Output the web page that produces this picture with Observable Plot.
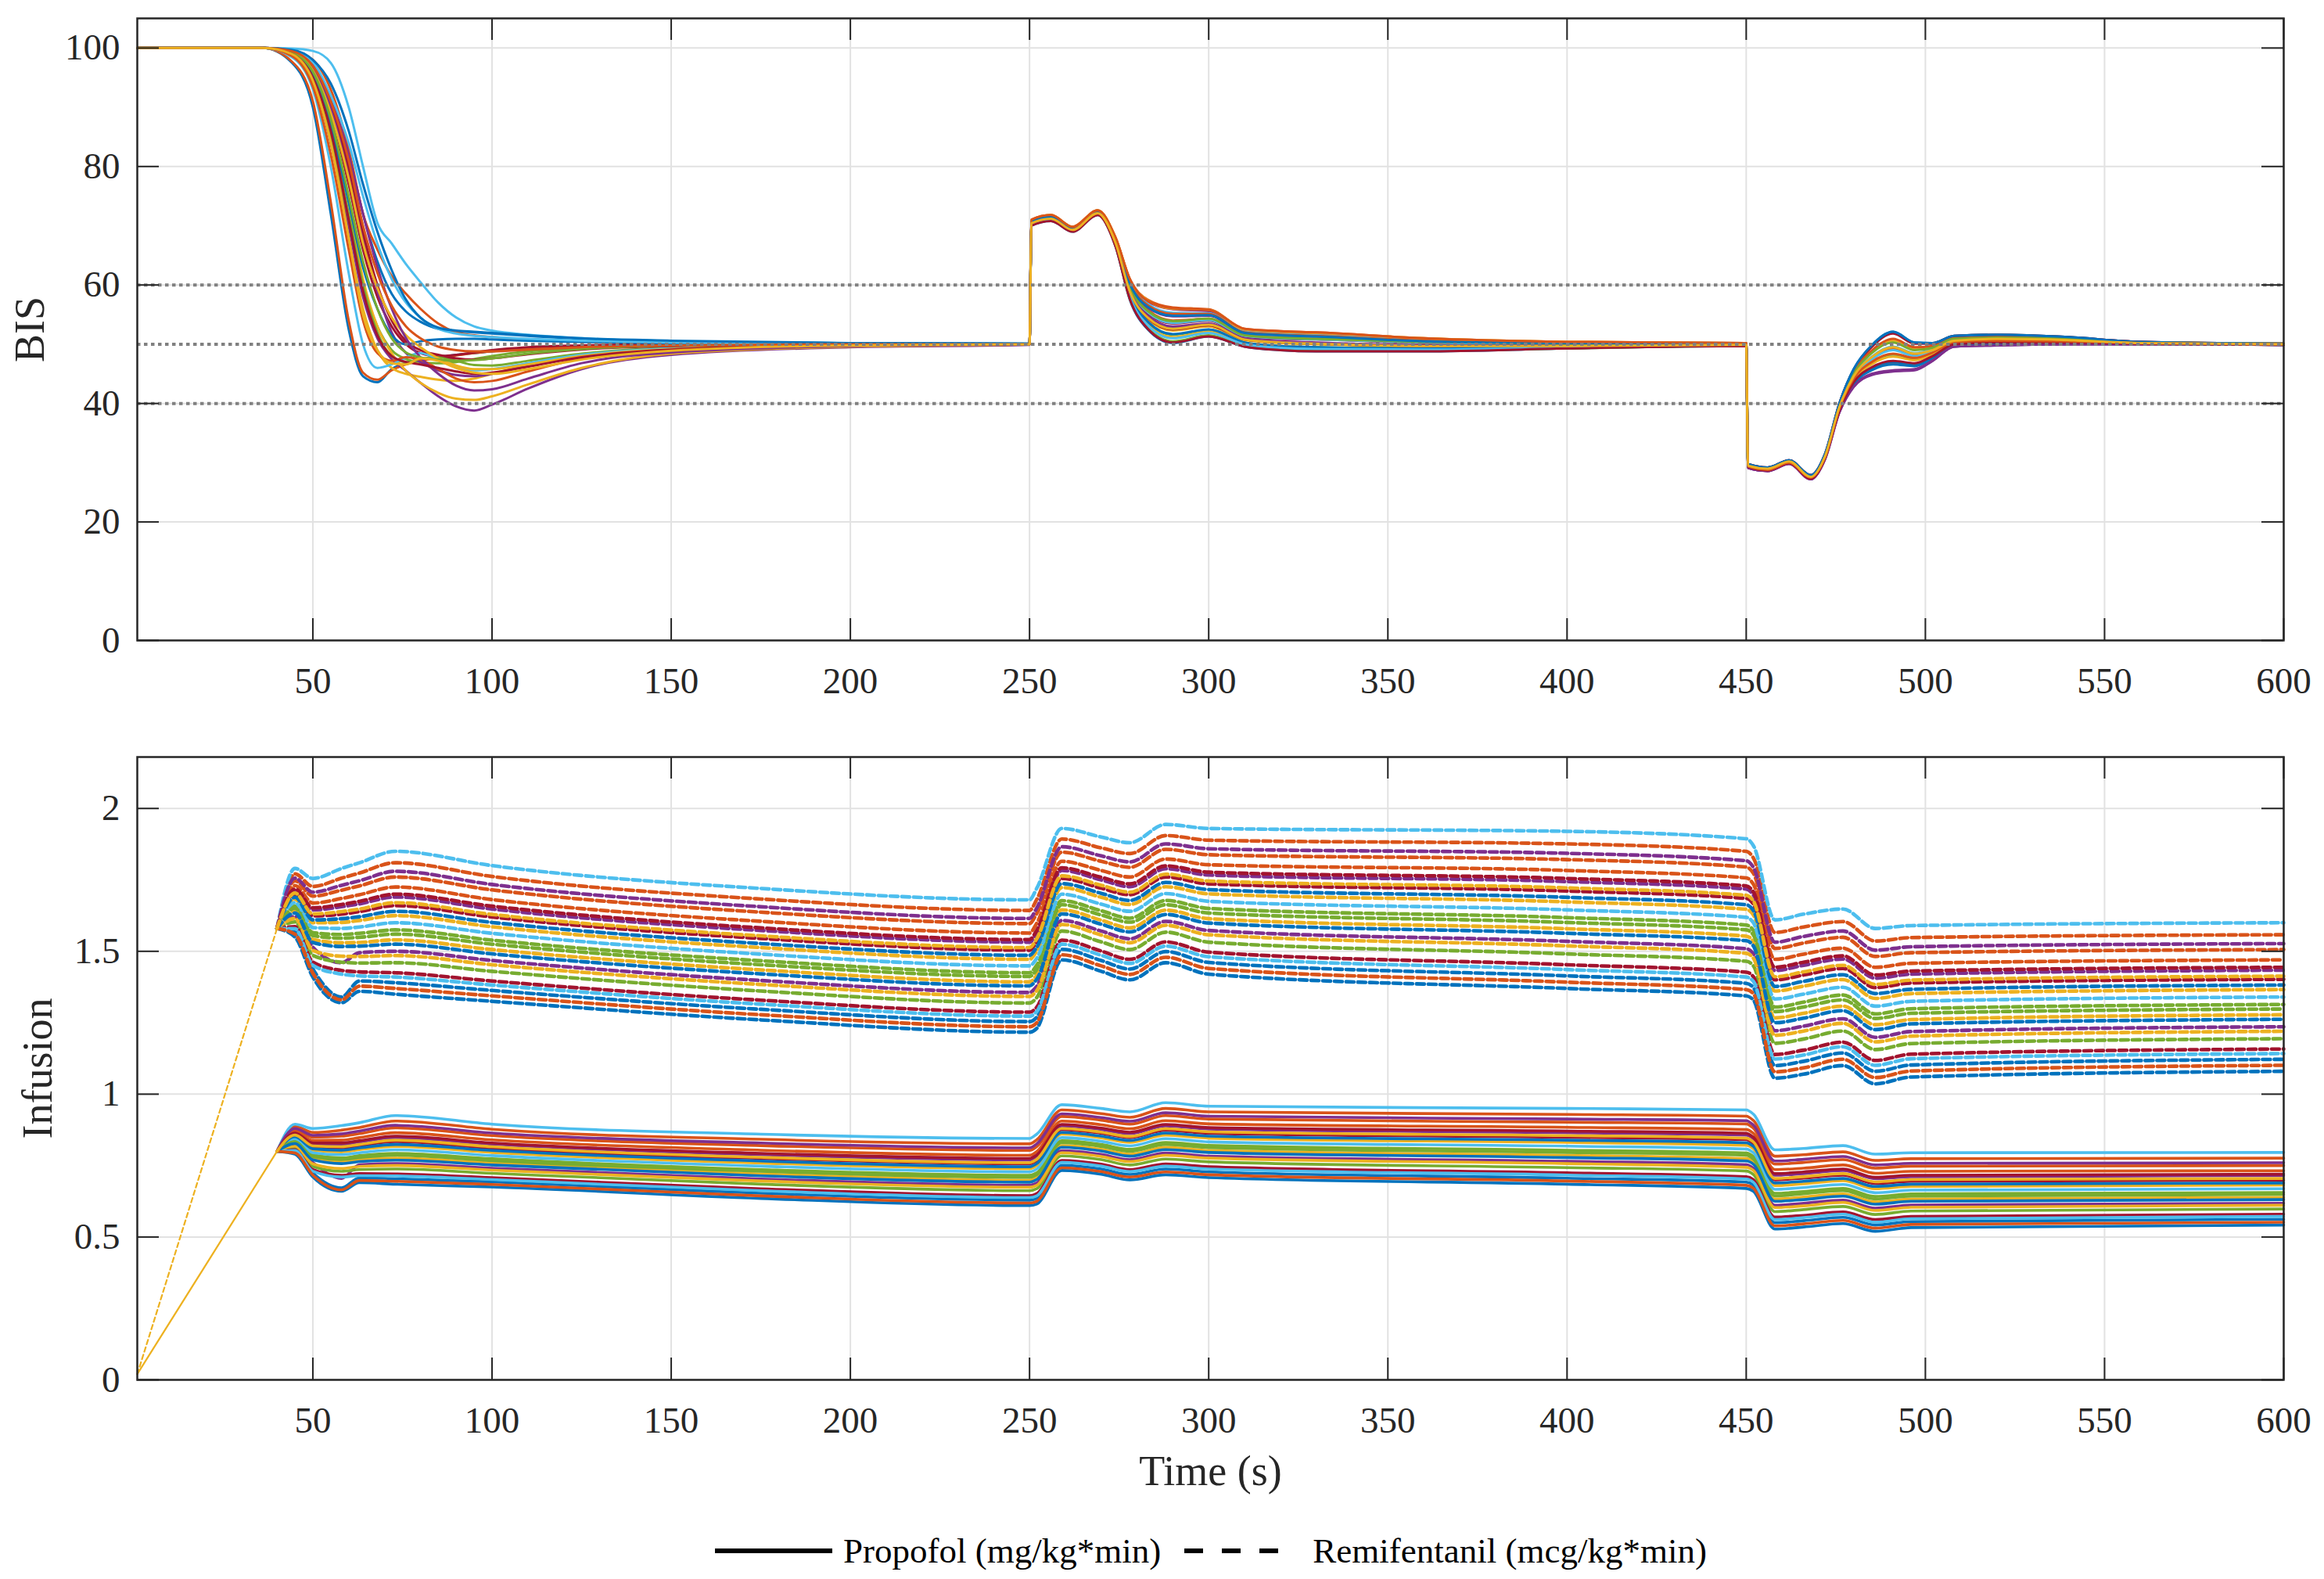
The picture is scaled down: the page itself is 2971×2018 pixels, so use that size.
<!DOCTYPE html>
<html><head><meta charset="utf-8">
<script src="https://cdn.jsdelivr.net/npm/d3@7"></script>
<script src="https://cdn.jsdelivr.net/npm/@observablehq/plot@0.6"></script>
<style>
html,body{margin:0;padding:0;background:#fff;}
#wrap{position:relative;width:2971px;height:2018px;overflow:hidden;font-family:"Liberation Serif","Times New Roman",serif;color:#262626;background:#fff;}
#top{position:absolute;left:0;top:0;}
#bot{position:absolute;left:0;top:900px;}
#legend{position:absolute;left:914px;top:1950px;height:64px;display:flex;align-items:center;font-size:45px;white-space:nowrap;color:#000;}
#legend span{margin-left:14px;}
#legend svg.d{margin-left:30px;}
#legend span.r{margin-left:44px;}
</style></head>
<body><div id="wrap"><div id="top"></div><div id="bot"></div><div id="legend"></div></div>
<script>
// ---------- tick values / labels ----------
const timeTicks = [50,100,150,200,250,300,350,400,450,500,550,600];
const timeTickLabels = ["50","100","150","200","250","300","350","400","450","500","550","600"];
const bisTicks = [0,20,40,60,80,100];
const bisTickLabels = ["0","20","40","60","80","100"];
const infTicks = [0,0.5,1,1.5,2];
const infTickLabels = ["0","0.5","1","1.5","2"];
const bisTargets = [40,50,60];
const legendLabels = ["Propofol (mg/kg*min)","Remifentanil (mcg/kg*min)"];
const palette = ["#0072BD","#D95319","#EDB120","#7E2F8E","#77AC30","#4DBEEE","#A2142F"];

// ---------- BIS: induction phase (t = 1 .. 250) ----------
const bisT1 = [1,36,44,50,55,60,64,68,72,76,80,85,90,95,100,110,125,150,200,250];
const bisInduction = [
[100,100,97.6,90,72,52.5,44.6,43.6,45.8,46.8,47.3,47.8,48.2,48.5,48.8,49.2,49.6,49.9,50,50],
[100,100,97.8,91,74,54,45.2,44,45.6,46.6,47.2,47.7,48.1,48.5,48.8,49.2,49.6,49.9,50,50],
[100,100,98.8,94,84,68,56,49,46,45,44.5,44,43.8,44.2,45,46.5,48,49.2,49.9,50],
[100,100,99,95,84,70,58,51,47.5,45.5,43.5,41.2,39.5,38.8,39.8,42.5,45.8,48.2,49.5,49.9],
[100,100,99,94.5,85,71,60,53,49,47.5,47,46.8,47,47.5,48,48.8,49.4,49.8,50,50],
[100,100,99.9,99.5,97.5,90,80,70.5,67,63.5,60.5,57,54.5,53,52.3,51.6,51,50.5,50.2,50.1],
[100,100,99.3,96,89,77,66,58,53,50,48.5,48,48.2,48.6,49,49.5,49.8,50,50,50],
[100,100,99.5,97,91,82,72,64,58.5,55.5,53.8,52.6,52.2,52,51.8,51.4,50.9,50.5,50.2,50.1],
[100,100,99.6,98,93,83,72,66,61.5,58.5,56,53.5,52,51.5,51.2,50.8,50.5,50.3,50.1,50],
[100,100,99.2,96,88,74,61,53,48.5,45.5,43.5,41.8,40.8,40.6,41.2,43.2,46,48.4,49.6,50],
[100,100,99.4,96.5,90,79,68,59,52,48.5,47,45.6,44.8,44.6,45,46.4,48,49.2,49.9,50],
[100,100,99,95,86,72,60,52,48,47,47.5,47.8,47.2,46.5,46.4,47.2,48.4,49.4,49.9,50],
[100,100,98.5,93,80,62,50,46,46.6,47.8,48.5,47.5,46.2,45.6,45.8,46.8,48.2,49.3,49.9,50],
[100,100,99.4,97,91,80,69,60,54,50.5,49,48.2,47.6,47.4,47.6,48.3,49.1,49.7,50,50],
[100,100,99.1,95.5,87,74,63,56,51.5,50,50.5,50.8,50.9,50.9,50.8,50.6,50.4,50.2,50.1,50],
[100,100,98.7,93.5,82,66,54,48.5,47.2,47.8,47.4,45.8,44.2,43.6,43.8,45.4,47.6,49,49.8,50],
[100,100,99.3,96.2,89,78,67,59.5,54.5,51.5,49.5,47.6,46.4,45.8,45.8,46.6,48,49.2,49.9,50],
[100,100,99.5,97.2,91.5,82,72,63,56,51,47.8,45,43,42.2,42.4,44.2,46.8,48.6,49.7,50],
[100,100,99.2,96,88,75,64,56,51,48.6,47.8,47.4,47.2,47.3,47.6,48.4,49.2,49.8,50,50],
[100,100,99.6,97.6,92,84,75,67,61,57,54.5,52.6,51.8,51.4,51.2,50.9,50.6,50.3,50.1,50],
[100,100,99,95,86,71,59,51.5,48,47,46.6,46,45.4,45,45.2,46.2,47.8,49.1,49.9,50],
[100,100,99.7,98,94,86,77,69,62.5,57.5,54.5,52.8,52.3,52.1,51.9,51.5,51,50.6,50.2,50.1],
[100,100,99.5,97,91,81,70,62,56.5,53,51,49.6,49,48.8,48.8,49.1,49.5,49.8,50,50],
[100,100,99,94.5,84,68,55,49,46.8,46.6,47.6,47.2,46,45.2,45,45.8,47.4,48.9,49.8,50]
];

// ---------- BIS: stimulation step (t = 250.5 .. 450) ----------
const bisT2 = [250.5,256,262,269,274,278,283,290,300,310,320,330,360,400,450];
const bisStimulation = [
[70.0,70.8,69.0,71.8,66.5,57.5,52.5,50.2,51.3,49.6,49.0,48.8,48.8,49.3,49.7],
[70.6,71.4,69.5,72.3,67.4,59.8,55.8,54.0,54.3,51.5,51.1,50.9,50.3,50.0,50.0],
[70.4,71.2,69.3,72.1,67.1,58.7,54.2,52.3,53.0,50.7,50.2,50.0,49.6,49.7,49.9],
[70.9,71.7,69.8,72.5,67.9,60.8,57.2,55.9,55.6,52.4,52.0,51.8,50.9,50.3,50.2],
[70.2,71.0,69.2,72.0,66.8,58.3,53.7,51.6,52.4,50.3,49.7,49.5,49.3,49.5,49.8],
[70.8,71.6,69.6,72.4,67.7,60.5,56.8,55.3,55.2,52.1,51.7,51.5,50.7,50.2,50.1],
[70.6,71.4,69.4,72.3,67.4,59.4,55.2,53.5,54.0,51.3,50.9,50.8,50.2,50.0,50.0],
[70.4,71.2,69.3,72.1,67.1,59.0,54.7,52.8,53.4,50.9,50.4,50.2,49.8,49.8,49.9],
[71.0,71.8,69.8,72.6,68.0,61.0,57.5,56.2,55.9,52.6,52.2,52.0,51.0,50.4,50.2],
[70.2,71.0,69.1,72.0,66.8,58.1,53.3,51.2,52.1,50.1,49.5,49.3,49.1,49.5,49.8],
[70.7,71.5,69.6,72.4,67.6,60.1,56.2,54.7,54.8,51.9,51.5,51.3,50.5,50.1,50.1],
[70.1,70.9,69.1,71.9,66.6,57.7,52.8,50.5,51.5,49.7,49.1,48.9,48.9,49.3,49.7],
[70.5,71.3,69.4,72.2,67.3,59.5,55.4,53.6,54.1,51.4,51.0,50.8,50.3,50.0,50.0],
[70.3,71.1,69.3,72.1,67.0,58.8,54.4,52.5,53.2,50.8,50.3,50.1,49.7,49.7,49.9],
[70.3,71.0,69.2,72.0,66.9,58.4,53.8,51.7,52.5,50.3,49.7,49.5,49.3,49.6,49.8],
[70.8,71.6,69.7,72.4,67.8,60.4,56.6,55.1,55.1,52.0,51.6,51.4,50.6,50.2,50.1],
[70.9,71.8,69.8,72.6,68.0,60.9,57.4,56.0,55.8,52.5,52.1,51.9,51.0,50.4,50.2],
[70.4,71.2,69.3,72.1,67.2,59.1,54.8,53.0,53.5,51.0,50.5,50.3,49.8,49.8,49.9],
[70.6,71.4,69.5,72.3,67.5,59.7,55.6,53.9,54.3,51.5,51.1,50.9,50.4,50.1,50.0],
[70.2,71.0,69.2,71.9,66.7,58.0,53.2,51.0,51.9,50.0,49.4,49.2,49.1,49.4,49.8],
[70.0,70.8,69.0,71.8,66.5,57.6,52.6,50.3,51.3,49.6,49.0,48.8,48.8,49.3,49.7],
[70.7,71.5,69.6,72.4,67.6,60.2,56.3,54.8,54.9,51.9,51.5,51.3,50.5,50.2,50.1],
[71.0,71.8,69.8,72.6,68.0,61.0,57.3,56.1,55.8,52.6,52.2,52.0,51.0,50.4,50.2],
[70.4,71.2,69.3,72.1,67.1,58.9,54.5,52.6,53.3,50.8,50.3,50.1,49.7,49.7,49.9]
];

// ---------- BIS: second step (t = 450.5 .. 600) ----------
const bisT3 = [450.5,456,462,468,472,476,480,485,491,497,502,508,520,540,560,600];
const bisSecondStep = [
[29.8,29.2,30.4,27.9,31.5,40.0,45.8,49.8,52.1,50.3,50.2,51.4,51.6,51.2,50.4,50.1],
[29.2,28.7,29.9,27.3,30.8,38.8,43.4,45.8,46.8,46.5,47.8,49.9,50.2,50.2,50.1,49.9],
[29.7,29.1,30.3,27.8,31.3,39.7,45.2,48.8,50.8,49.4,49.6,51.0,51.2,51.0,50.3,50.1],
[29.1,28.6,29.8,27.2,30.6,38.5,42.8,44.8,45.4,45.6,47.2,49.6,49.8,50.0,50.0,49.9],
[29.5,29.0,30.2,27.6,31.1,39.4,44.6,47.8,49.5,48.4,49.0,50.6,50.9,50.7,50.2,50.0],
[29.4,28.8,30.0,27.5,30.9,39.1,44.0,46.8,48.1,47.5,48.4,50.3,50.5,50.5,50.2,50.0],
[29.8,29.2,30.4,27.9,31.4,39.9,45.6,49.5,51.8,50.1,50.1,51.3,51.5,51.1,50.4,50.1],
[29.3,28.7,29.9,27.4,30.8,38.9,43.5,46.0,47.0,46.7,47.9,50.0,50.2,50.2,50.1,49.9],
[29.5,29.0,30.1,27.6,31.1,39.3,44.5,47.6,49.2,48.2,48.9,50.5,50.8,50.7,50.2,50.0],
[29.7,29.1,30.3,27.8,31.3,39.6,45.1,48.6,50.5,49.2,49.5,50.9,51.1,50.9,50.3,50.1],
[29.1,28.6,29.8,27.2,30.7,38.6,42.9,45.0,45.6,45.8,47.3,49.6,49.9,50.0,50.0,49.9],
[29.4,28.9,30.0,27.5,30.9,39.1,44.1,46.9,48.3,47.6,48.5,50.3,50.5,50.5,50.2,50.0],
[29.5,29.0,30.2,27.6,31.1,39.4,44.7,47.9,49.6,48.5,49.1,50.6,50.9,50.7,50.2,50.0],
[29.8,29.2,30.4,27.9,31.5,40.0,45.7,49.7,52.0,50.2,50.2,51.4,51.6,51.2,50.4,50.1],
[29.2,28.7,29.9,27.3,30.8,38.8,43.3,45.6,46.6,46.3,47.7,49.8,50.1,50.2,50.1,49.9],
[29.7,29.1,30.3,27.8,31.3,39.7,45.3,48.9,50.9,49.5,49.7,51.0,51.2,51.0,50.3,50.1],
[29.4,28.8,30.0,27.5,30.9,39.0,43.9,46.6,47.9,47.3,48.3,50.2,50.4,50.4,50.2,50.0],
[29.1,28.6,29.8,27.2,30.6,38.5,42.8,44.9,45.5,45.7,47.2,49.6,49.8,50.0,50.0,49.9],
[29.6,29.1,30.3,27.7,31.2,39.6,45.0,48.5,50.3,49.0,49.4,50.9,51.1,50.9,50.3,50.1],
[29.5,28.9,30.1,27.6,31.0,39.3,44.4,47.4,49.0,48.0,48.8,50.5,50.8,50.6,50.2,50.0],
[29.3,28.7,29.9,27.3,30.8,38.8,43.6,46.1,47.2,46.8,48.0,50.0,50.3,50.3,50.1,49.9],
[29.8,29.2,30.4,27.9,31.5,40.0,45.8,49.8,52.1,50.3,50.2,51.4,51.6,51.2,50.4,50.1],
[29.4,28.8,30.0,27.5,30.9,39.2,44.2,47.0,48.4,47.7,48.6,50.4,50.6,50.5,50.2,50.0],
[29.5,29.0,30.2,27.6,31.1,39.4,44.6,47.8,49.5,48.4,49.0,50.6,50.9,50.7,50.2,50.0]
];

// ---------- Infusion: shared start-up ramp (t = 1 .. 40) ----------
const rampT = [1, 40];
const propofolRamp = [0.02, 0.80];
const remifentanilRamp = [0.02, 1.58];

// ---------- Infusion: controller phase (t = 40 .. 600) ----------
const infT = [40,45,50,58,63,73,100,175,250,252,259,270,278,288,300,400,450,452,458,466,477,486,496,600];
const propofolRuns = [
[.80,.79,.71,.66,.69,.685,.675,.635,.61,.615,.733,.72,.70,.718,.708,.685,.67,.66,.528,.535,.547,.52,.533,.542],
[.80,.887,.866,.874,.883,.906,.877,.842,.826,.840,.945,.932,.919,.950,.938,.929,.923,.908,.783,.788,.798,.768,.774,.776],
[.80,.848,.804,.798,.806,.817,.796,.759,.739,.750,.860,.847,.831,.857,.846,.831,.821,.809,.680,.686,.697,.669,.677,.682],
[.80,.822,.761,.705,.753,.757,.741,.703,.681,.689,.802,.789,.771,.794,.783,.765,.753,.741,.611,.618,.629,.601,.612,.618],
[.80,.837,.787,.777,.785,.793,.774,.736,.716,.725,.837,.824,.807,.831,.821,.804,.794,.782,.653,.659,.670,.642,.651,.656],
[.80,.895,.88,.89,.90,.925,.895,.86,.845,.86,.963,.95,.938,.97,.958,.95,.945,.93,.805,.81,.82,.79,.795,.796],
[.80,.855,.815,.812,.820,.834,.811,.775,.756,.767,.876,.863,.848,.874,.863,.849,.841,.827,.700,.706,.716,.687,.695,.699],
[.80,.798,.724,.672,.707,.704,.693,.653,.629,.635,.751,.738,.719,.738,.728,.706,.692,.682,.550,.557,.569,.542,.554,.562],
[.80,.869,.838,.839,.848,.865,.840,.804,.786,.799,.906,.893,.879,.907,.896,.884,.876,.863,.736,.741,.752,.723,.730,.732],
[.80,.830,.775,.763,.770,.776,.759,.721,.699,.708,.820,.807,.790,.814,.803,.786,.775,.763,.633,.640,.651,.623,.633,.639],
[.80,.861,.826,.824,.833,.848,.825,.788,.770,.782,.889,.876,.862,.889,.878,.865,.857,.844,.716,.722,.733,.704,.711,.715],
[.80,.813,.747,.730,.736,.738,.723,.685,.662,.669,.784,.771,.752,.773,.763,.743,.731,.719,.589,.596,.607,.579,.591,.598],
[.80,.843,.795,.788,.795,.805,.785,.748,.728,.738,.848,.835,.819,.844,.833,.818,.808,.795,.667,.673,.684,.655,.664,.669],
[.80,.806,.736,.716,.722,.721,.708,.669,.645,.652,.768,.755,.736,.756,.746,.725,.711,.701,.570,.576,.588,.561,.572,.580],
[.80,.851,.809,.804,.812,.824,.803,.766,.746,.757,.866,.853,.838,.864,.853,.839,.830,.817,.689,.695,.705,.677,.685,.689],
[.80,.876,.849,.853,.862,.882,.855,.820,.803,.816,.922,.909,.895,.925,.913,.902,.896,.881,.755,.761,.771,.741,.748,.750],
[.80,.818,.756,.740,.747,.750,.734,.696,.674,.681,.795,.782,.764,.786,.776,.757,.744,.733,.603,.609,.621,.593,.604,.611],
[.80,.880,.856,.861,.871,.891,.864,.829,.812,.826,.931,.918,.905,.935,.923,.913,.907,.892,.766,.772,.782,.752,.758,.760],
[.80,.834,.781,.771,.778,.786,.767,.730,.709,.718,.830,.817,.800,.824,.813,.796,.786,.773,.644,.651,.662,.633,.643,.649],
[.80,.803,.730,.710,.715,.714,.701,.662,.638,.644,.761,.748,.729,.748,.738,.717,.703,.692,.561,.568,.580,.552,.564,.572],
[.80,.864,.829,.829,.837,.853,.829,.793,.775,.787,.894,.881,.867,.894,.883,.871,.863,.849,.722,.728,.738,.709,.716,.720],
[.80,.827,.770,.757,.764,.769,.752,.714,.692,.701,.814,.801,.783,.806,.796,.778,.766,.755,.625,.631,.643,.615,.625,.631],
[.80,.794,.717,.665,.698,.695,.684,.644,.619,.625,.742,.729,.710,.728,.718,.696,.681,.671,.539,.546,.558,.531,.544,.552],
[.80,.857,.819,.816,.824,.839,.816,.779,.760,.772,.880,.867,.852,.879,.868,.855,.846,.833,.705,.711,.722,.693,.701,.705]
];
const remifentanilRuns = [
[1.58,1.55,1.41,1.32,1.36,1.35,1.325,1.26,1.217,1.23,1.47,1.43,1.40,1.46,1.42,1.37,1.344,1.33,1.056,1.07,1.10,1.036,1.06,1.08],
[1.58,1.771,1.727,1.756,1.774,1.81,1.762,1.683,1.643,1.681,1.893,1.862,1.842,1.905,1.889,1.876,1.850,1.827,1.566,1.585,1.604,1.536,1.548,1.558],
[1.58,1.682,1.60,1.601,1.608,1.625,1.586,1.513,1.472,1.500,1.723,1.689,1.664,1.726,1.701,1.673,1.647,1.627,1.361,1.378,1.401,1.335,1.352,1.366],
[1.58,1.622,1.514,1.46,1.495,1.50,1.468,1.398,1.356,1.377,1.608,1.571,1.544,1.605,1.573,1.535,1.509,1.492,1.222,1.238,1.264,1.199,1.219,1.236],
[1.58,1.658,1.565,1.559,1.563,1.575,1.539,1.467,1.425,1.451,1.677,1.642,1.616,1.678,1.650,1.618,1.592,1.573,1.305,1.322,1.347,1.281,1.299,1.314],
[1.58,1.79,1.755,1.79,1.81,1.85,1.80,1.72,1.68,1.72,1.93,1.90,1.88,1.944,1.93,1.92,1.894,1.87,1.61,1.63,1.648,1.58,1.59,1.60],
[1.58,1.699,1.624,1.630,1.639,1.66,1.620,1.545,1.504,1.534,1.755,1.721,1.698,1.760,1.736,1.711,1.685,1.665,1.400,1.417,1.440,1.373,1.389,1.402],
[1.58,1.569,1.438,1.34,1.396,1.39,1.363,1.297,1.254,1.269,1.507,1.468,1.438,1.499,1.461,1.414,1.388,1.373,1.100,1.115,1.144,1.080,1.102,1.122],
[1.58,1.73,1.669,1.685,1.698,1.725,1.681,1.605,1.564,1.598,1.815,1.783,1.76,1.823,1.803,1.783,1.757,1.735,1.472,1.49,1.511,1.444,1.458,1.47],
[1.58,1.641,1.541,1.53,1.531,1.54,1.506,1.435,1.393,1.416,1.645,1.609,1.582,1.644,1.614,1.579,1.553,1.535,1.267,1.283,1.308,1.243,1.261,1.278],
[1.58,1.713,1.645,1.656,1.666,1.69,1.648,1.573,1.532,1.563,1.783,1.75,1.726,1.789,1.767,1.744,1.718,1.697,1.433,1.451,1.473,1.406,1.42,1.434],
[1.58,1.603,1.486,1.462,1.459,1.46,1.43,1.361,1.319,1.338,1.571,1.533,1.506,1.567,1.532,1.491,1.465,1.449,1.178,1.193,1.221,1.156,1.177,1.194],
[1.58,1.67,1.583,1.58,1.585,1.60,1.563,1.49,1.449,1.475,1.70,1.665,1.64,1.702,1.675,1.645,1.619,1.60,1.333,1.35,1.374,1.308,1.325,1.34],
[1.58,1.586,1.462,1.433,1.428,1.425,1.396,1.329,1.287,1.304,1.539,1.501,1.472,1.533,1.497,1.453,1.427,1.411,1.139,1.154,1.182,1.118,1.14,1.158],
[1.58,1.689,1.61,1.614,1.621,1.64,1.601,1.527,1.486,1.514,1.737,1.703,1.678,1.741,1.716,1.689,1.663,1.643,1.377,1.395,1.418,1.352,1.367,1.382],
[1.58,1.747,1.693,1.714,1.729,1.76,1.715,1.637,1.597,1.632,1.847,1.815,1.794,1.857,1.838,1.821,1.795,1.773,1.51,1.529,1.549,1.482,1.495,1.506],
[1.58,1.615,1.503,1.483,1.482,1.485,1.453,1.384,1.342,1.362,1.594,1.557,1.53,1.591,1.558,1.519,1.493,1.476,1.206,1.221,1.248,1.183,1.203,1.22],
[1.58,1.756,1.707,1.731,1.747,1.78,1.734,1.656,1.615,1.651,1.866,1.834,1.813,1.876,1.859,1.843,1.817,1.794,1.532,1.552,1.571,1.504,1.516,1.527],
[1.58,1.651,1.555,1.546,1.549,1.56,1.525,1.453,1.412,1.436,1.663,1.627,1.602,1.663,1.634,1.601,1.575,1.557,1.289,1.305,1.33,1.265,1.283,1.298],
[1.58,1.579,1.451,1.42,1.414,1.41,1.382,1.315,1.273,1.289,1.525,1.486,1.458,1.518,1.481,1.436,1.41,1.395,1.123,1.137,1.166,1.101,1.124,1.142],
[1.58,1.718,1.652,1.664,1.675,1.70,1.658,1.582,1.541,1.573,1.792,1.759,1.736,1.799,1.777,1.755,1.729,1.708,1.444,1.462,1.484,1.417,1.431,1.444],
[1.58,1.634,1.531,1.517,1.518,1.525,1.491,1.421,1.379,1.402,1.631,1.595,1.568,1.629,1.599,1.563,1.537,1.519,1.25,1.266,1.292,1.226,1.246,1.262],
[1.58,1.56,1.424,1.33,1.378,1.37,1.344,1.278,1.236,1.25,1.488,1.449,1.419,1.479,1.44,1.392,1.366,1.352,1.078,1.092,1.122,1.058,1.081,1.101],
[1.58,1.704,1.631,1.639,1.648,1.67,1.629,1.554,1.513,1.544,1.764,1.731,1.707,1.77,1.746,1.722,1.696,1.676,1.411,1.428,1.451,1.384,1.399,1.413]
];

// ---------- layout ----------
const W = 2971, ML = 175, MR = 52, TICK = 28;
const FONT = '"Liberation Serif","Times New Roman",serif';
const INK = "#262626";
const LW_BIS = 3.0, LW_PROP = 3.6, LW_REMI = 4.6;

function rows(times, values) { return times.map((t, i) => ({t, v: values[i]})); }

function frameMarks(o) {
  const plotW = W - ML - MR;
  const plotH = o.height - o.marginTop - o.marginBottom;
  return [
    Plot.tickX(timeTicks, {x: d => d, insetTop: plotH - TICK, stroke: INK, strokeWidth: 2}),
    Plot.tickX(timeTicks, {x: d => d, insetBottom: plotH - TICK, stroke: INK, strokeWidth: 2}),
    Plot.tickY(o.yTicks, {y: d => d, insetRight: plotW - TICK, stroke: INK, strokeWidth: 2}),
    Plot.tickY(o.yTicks, {y: d => d, insetLeft: plotW - TICK, stroke: INK, strokeWidth: 2}),
    Plot.frame({stroke: INK, strokeWidth: 2.5}),
    Plot.text(timeTicks, {x: d => d, text: (d, i) => timeTickLabels[i], frameAnchor: "bottom", dy: 52, lineAnchor: "middle", textAnchor: "middle", fill: INK, fontSize: 47}),
    Plot.text(o.yTicks, {y: d => d, text: (d, i) => o.yTickLabels[i], frameAnchor: "left", dx: -22, lineAnchor: "middle", textAnchor: "end", fill: INK, fontSize: 47}),
    Plot.text([o.yLabel], {text: d => d, frameAnchor: "left", dx: o.yLabelX - ML, rotate: -90, textAnchor: "middle", lineAnchor: "middle", fill: INK, fontSize: 54})
  ];
}

// ---------- top panel: BIS ----------
{
  const height = 900, marginTop = 23, marginBottom = 82;
  const marks = [
    Plot.ruleX(timeTicks, {x: d => d, stroke: "#e2e2e2", strokeWidth: 2}),
    Plot.ruleY(bisTicks, {y: d => d, stroke: "#e2e2e2", strokeWidth: 2})
  ];
  const T = bisT1.concat(bisT2, bisT3);
  bisInduction.forEach((r, k) => {
    const vals = r.concat(bisStimulation[k], bisSecondStep[k]);
    marks.push(Plot.line(rows(T, vals), {x: "t", y: "v", stroke: palette[k % 7], strokeWidth: LW_BIS, curve: "monotone-x"}));
  });
  marks.push(Plot.ruleY(bisTargets, {y: d => d, stroke: "#808080", strokeWidth: 4, strokeDasharray: "4.5,4.5"}));
  marks.push(...frameMarks({height, marginTop, marginBottom, yTicks: bisTicks, yTickLabels: bisTickLabels, yLabel: "BIS", yLabelX: 38}));
  const svg = Plot.plot({
    width: W, height, marginTop, marginBottom, marginLeft: ML, marginRight: MR,
    x: {domain: [1, 600], axis: null},
    y: {domain: [0, 105], axis: null},
    style: {fontFamily: FONT, fontSize: "47px", color: INK, background: "transparent", overflow: "visible"},
    marks
  });
  document.getElementById("top").appendChild(svg);
}

// ---------- bottom panel: Infusion ----------
{
  const height = 1013, marginTop = 67, marginBottom = 150;
  const marks = [
    Plot.ruleX(timeTicks, {x: d => d, stroke: "#e2e2e2", strokeWidth: 2}),
    Plot.ruleY(infTicks, {y: d => d, stroke: "#e2e2e2", strokeWidth: 2})
  ];
  remifentanilRuns.forEach((r, k) => {
    marks.push(Plot.line(rows(infT, r), {x: "t", y: "v", stroke: palette[k % 7], strokeWidth: LW_REMI, strokeDasharray: "10,5", curve: "monotone-x"}));
  });
  propofolRuns.forEach((r, k) => {
    marks.push(Plot.line(rows(infT, r), {x: "t", y: "v", stroke: palette[k % 7], strokeWidth: LW_PROP, curve: "monotone-x"}));
  });
  // shared start-up ramp, drawn last (yellow on top as in the source figure)
  marks.push(Plot.line(rows(rampT, remifentanilRamp), {x: "t", y: "v", stroke: palette[2], strokeWidth: 2.2, strokeDasharray: "6,4"}));
  marks.push(Plot.line(rows(rampT, propofolRamp), {x: "t", y: "v", stroke: palette[2], strokeWidth: 2.2}));
  marks.push(...frameMarks({height, marginTop, marginBottom, yTicks: infTicks, yTickLabels: infTickLabels, yLabel: "Infusion", yLabelX: 48}));
  marks.push(Plot.text(["Time (s)"], {text: d => d, frameAnchor: "bottom", dy: 117, lineAnchor: "middle", textAnchor: "middle", fill: INK, fontSize: 54}));
  const svg = Plot.plot({
    width: W, height, marginTop, marginBottom, marginLeft: ML, marginRight: MR,
    x: {domain: [1, 600], axis: null},
    y: {domain: [0, 2.18], axis: null},
    style: {fontFamily: FONT, fontSize: "47px", color: INK, background: "transparent", overflow: "visible"},
    marks
  });
  document.getElementById("bot").appendChild(svg);
}

// ---------- legend ----------
{
  const lg = document.getElementById("legend");
  lg.innerHTML =
    '<svg width="150" height="12"><line x1="0" y1="6" x2="150" y2="6" stroke="#000" stroke-width="6"/></svg>' +
    '<span>' + legendLabels[0] + '</span>' +
    '<svg class="d" width="120" height="12"><line x1="0" y1="6" x2="120" y2="6" stroke="#000" stroke-width="6" stroke-dasharray="24,24"/></svg>' +
    '<span class="r">' + legendLabels[1] + '</span>';
}
</script>
</body></html>
